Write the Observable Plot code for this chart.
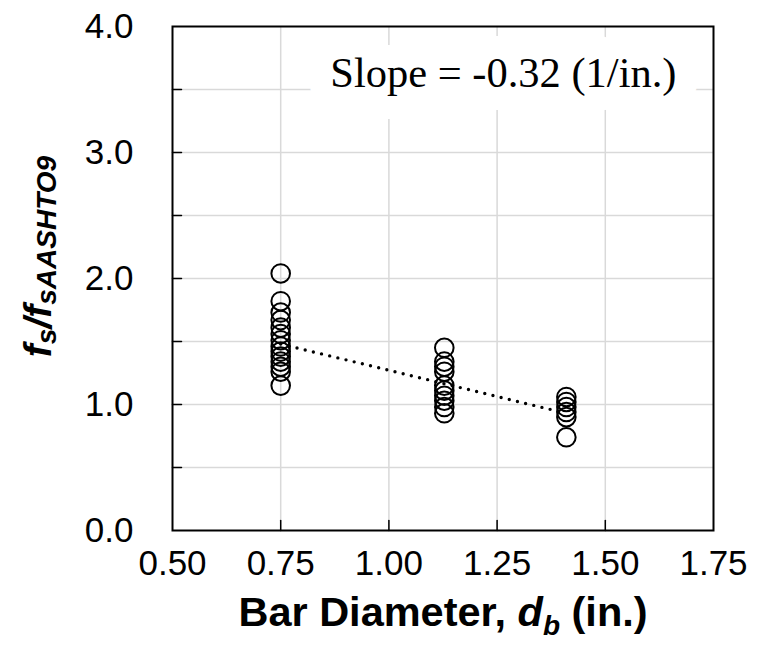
<!DOCTYPE html>
<html>
<head>
<meta charset="utf-8">
<script src="https://cdn.jsdelivr.net/npm/d3@7"></script>
<script src="https://cdn.jsdelivr.net/npm/@observablehq/plot@0.6"></script>
<style>
  html, body { margin: 0; padding: 0; background: #fff; }
</style>
</head>
<body>
<div id="chart"></div>
<script>
// Measured stress ratio fs / fs,AASHTO09 grouped by bar diameter (in.)
const barDiameters = [0.75, 1.128, 1.41];
const ratioBar075 = [2.04, 1.82, 1.73, 1.67, 1.61, 1.56, 1.51, 1.46, 1.42, 1.38, 1.34, 1.30, 1.26, 1.15];
const ratioBar1128 = [1.45, 1.34, 1.30, 1.26, 1.15, 1.11, 1.07, 1.03, 0.98, 0.93];
const ratioBar141 = [1.06, 1.02, 0.98, 0.94, 0.90, 0.74];

// Linear trend through the three groups
const trendX = [0.75, 1.41];
const trendY = [1.48, 0.93];
const slopeLabel = "Slope = -0.32 (1/in.)";

// Axis ticks and grid
const xTicks = [0.5, 0.75, 1.0, 1.25, 1.5, 1.75];
const yTicks = [0, 1, 2, 3, 4];
const xGrid = [0.75, 1.0, 1.25, 1.5];
const yGrid = [0.5, 1.0, 1.5, 2.0, 2.5, 3.0, 3.5];

const groups = [ratioBar075, ratioBar1128, ratioBar141];
const points = groups.flatMap((vals, i) => vals.map(v => ({db: barDiameters[i], ratio: v})));
const trend = trendX.map((x, i) => ({db: x, ratio: trendY[i]}));

// short inward tick drawn as a plain line
const tickShape = {draw(context, l) { context.moveTo(0, 0); context.lineTo(0, -l); }};

const chart = Plot.plot({
  width: 770,
  height: 662,
  marginLeft: 172,
  marginRight: 57,
  marginTop: 26,
  marginBottom: 132,
  style: {fontFamily: "Arial, 'Liberation Sans', sans-serif", fontSize: "35px", color: "#000", background: "#fff"},
  x: {domain: [0.5, 1.75]},
  y: {domain: [0, 4]},
  marks: [
    Plot.gridX(xGrid, {stroke: "#d9d9d9", strokeOpacity: 1, strokeWidth: 1.5}),
    Plot.gridY(yGrid, {stroke: "#d9d9d9", strokeOpacity: 1, strokeWidth: 1.5}),
    Plot.text([slopeLabel], {
      text: d => d, frameAnchor: "top-right", dx: -37, dy: 47,
      textAnchor: "end", lineAnchor: "middle",
      fontFamily: "'Times New Roman', 'Liberation Serif', serif", fontSize: 42.5,
      fill: "#000", stroke: "#fff", strokeWidth: 46, strokeLinejoin: "round", paintOrder: "stroke"
    }),
    Plot.frame({stroke: "#000", strokeWidth: 2}),
    Plot.vector(xGrid, {x: d => d, y: d => 0, length: 10, rotate: 0, anchor: "start", shape: tickShape, stroke: "#000", strokeWidth: 1.5}),
    Plot.vector(yGrid, {x: d => 0.5, y: d => d, length: 9, rotate: 90, anchor: "start", shape: tickShape, stroke: "#000", strokeWidth: 1.5}),
    Plot.line(trend, {x: "db", y: "ratio", stroke: "#000", strokeWidth: 3.4, strokeDasharray: "0 8.4", strokeLinecap: "round"}),
    Plot.dot(points, {x: "db", y: "ratio", r: 9.3, stroke: "#000", strokeWidth: 2, fill: "none"}),
    Plot.axisX(xTicks, {tickSize: 0, tickPadding: 20, tickFormat: d3.format(".2f"), fontSize: 35, label: null}),
    Plot.axisY(yTicks, {tickSize: 0, tickPadding: 39, tickFormat: d3.format(".1f"), fontSize: 35, label: null}),
    Plot.text(["x-title"], {frameAnchor: "bottom", dy: 82, textAnchor: "middle", lineAnchor: "middle", className: "xtitle", fontWeight: "bold", fontSize: 41.5, fill: "#000"}),
    Plot.text(["y-title"], {frameAnchor: "left", dx: -134, dy: -22, rotate: -90, textAnchor: "middle", lineAnchor: "middle", className: "ytitle", fontWeight: "bold", fontStyle: "italic", fontSize: 39, fill: "#000"})
  ]
});

document.getElementById("chart").appendChild(chart);

// Titles with subscripts
function setRich(selector, parts) {
  const t = d3.select(chart).select(selector + " text");
  t.text(null);
  for (const p of parts) {
    const s = t.append("tspan").text(p.t);
    if (p.size) s.attr("font-size", p.size);
    if (p.style) s.attr("font-style", p.style);
    if (p.dy) s.attr("dy", p.dy);
  }
}
setRich(".xtitle", [
  {t: "Bar Diameter, "},
  {t: "d", style: "italic"},
  {t: "b", style: "italic", size: 28, dy: 9},
  {t: " (in.)", dy: -9}
]);
setRich(".ytitle", [
  {t: "f"},
  {t: "s", size: 28, dy: 5},
  {t: "/f", dy: -5},
  {t: "sAASHTO9", size: 28, dy: 5}
]);
</script>
</body>
</html>
